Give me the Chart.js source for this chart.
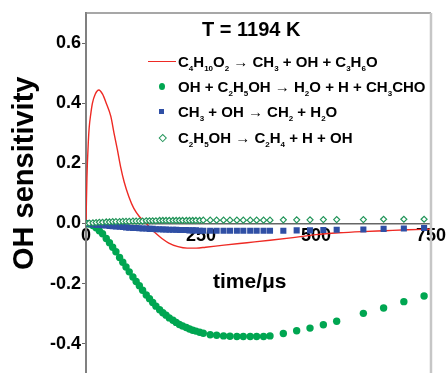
<!DOCTYPE html>
<html lang="en">
  <head>
    <meta charset="UTF-8" />
    <meta name="viewport" content="width=device-width, initial-scale=1.0" />
    <title>OH sensitivity - T = 1194 K</title>
    <script src="https://cdn.jsdelivr.net/npm/chart.js"></script>
    <style>
      html,
      body {
        margin: 0;
        padding: 0;
        background: #fff;
        overflow: hidden;
      }
      .grafico {
        position: relative;
        width: 448px;
        height: 379px;
      }
      .titulo {
        position: absolute;
        left: 202px;
        top: 19px;
        font: bold 20px "Liberation Sans", Arial, sans-serif;
        line-height: 20px;
        color: #000;
        white-space: nowrap;
      }
      .item {
        position: absolute;
        left: 148px;
        display: flex;
        align-items: center;
        height: 15px;
        line-height: 15px;
        font: bold 15px "Liberation Sans", Arial, sans-serif;
        color: #000;
        white-space: nowrap;
      }
      .item sub {
        font-size: 8px;
        line-height: 0;
        vertical-align: -4px;
      }
      .marca {
        width: 30px;
        height: 15px;
        position: relative;
        flex: none;
      }
      .marca span {
        position: absolute;
      }
    </style>
  </head>

  <body>
    <div class="grafico">
      <canvas id="myChart"></canvas>
      <div class="titulo">T = 1194 K</div>
      <div id="legenda"></div>
    </div>
  </body>
</html>

<script>
  // time grid of the marker series (μs)
  var timePoints = [
    0, 7, 15, 22, 29, 36, 44, 51, 58, 65, 73, 80, 87, 94, 102, 109, 116, 123,
    131, 138, 145, 152, 160, 167, 174, 181, 189, 196, 203, 210, 218, 225, 232,
    239, 247, 255, 270, 284, 299, 313, 328, 342, 357, 371, 386, 400, 429, 458,
    487, 516, 545, 603, 647, 691, 735,
  ];

  // OH + C2H5OH -> H2O + H + CH3CHO
  var ohEthanol = [
    0, -0.002, -0.007, -0.014, -0.024, -0.034, -0.05, -0.064, -0.079, -0.094,
    -0.113, -0.129, -0.145, -0.161, -0.178, -0.193, -0.207, -0.222, -0.238,
    -0.25, -0.263, -0.275, -0.287, -0.297, -0.305, -0.314, -0.322, -0.329,
    -0.336, -0.341, -0.346, -0.351, -0.355, -0.358, -0.362, -0.365, -0.37,
    -0.372, -0.374, -0.375, -0.376, -0.376, -0.376, -0.376, -0.376, -0.374,
    -0.366, -0.357, -0.348, -0.337, -0.325, -0.299, -0.281, -0.26, -0.241,
  ];

  // CH3 + OH -> CH2 + H2O
  var ch3Oh = [
    0, -0.002, -0.003, -0.004, -0.005, -0.006, -0.007, -0.008, -0.009, -0.01,
    -0.011, -0.012, -0.013, -0.014, -0.015, -0.015, -0.016, -0.017, -0.017,
    -0.018, -0.018, -0.019, -0.019, -0.02, -0.02, -0.021, -0.021, -0.021,
    -0.022, -0.022, -0.022, -0.023, -0.023, -0.023, -0.024, -0.024, -0.024,
    -0.024, -0.024, -0.024, -0.024, -0.024, -0.024, -0.024, -0.024, -0.024,
    -0.024, -0.023, -0.023, -0.022, -0.021, -0.02, -0.018, -0.017, -0.015,
  ];

  // C2H5OH -> C2H4 + H + OH
  var ethanolDecomp = [
    0, 0.001, 0.002, 0.003, 0.004, 0.004, 0.005, 0.005, 0.006, 0.006, 0.006,
    0.007, 0.007, 0.007, 0.008, 0.008, 0.008, 0.008, 0.009, 0.009, 0.009,
    0.009, 0.01, 0.01, 0.01, 0.01, 0.01, 0.01, 0.01, 0.01, 0.01, 0.01, 0.01,
    0.01, 0.01, 0.011, 0.011, 0.011, 0.011, 0.011, 0.011, 0.011, 0.011, 0.011,
    0.011, 0.011, 0.012, 0.012, 0.012, 0.013, 0.013, 0.013, 0.014, 0.014,
    0.014,
  ];

  // C4H10O2 -> CH3 + OH + C3H6O (solid line)
  var timeLine = [
    0, 1, 2, 3, 5, 7, 10, 14, 20, 28, 36, 44, 54, 61, 68, 75, 83, 93, 104, 115,
    126, 138, 151, 165, 180, 200, 220, 240, 260, 300, 350, 400, 450, 500, 550,
    600, 650, 700, 750,
  ];
  var diolLine = [
    0, 0.08, 0.15, 0.2, 0.27, 0.32, 0.36, 0.4, 0.43, 0.444, 0.43, 0.4, 0.356,
    0.3, 0.247, 0.19, 0.138, 0.09, 0.05, 0.025, 0.008, -0.012, -0.032, -0.05,
    -0.065, -0.077, -0.082, -0.082, -0.079, -0.072, -0.064, -0.056, -0.047,
    -0.037, -0.031, -0.027, -0.024, -0.021, -0.019,
  ];

  var xTicks = [0, 250, 500, 750];
  var yTicks = [-0.4, -0.2, 0, 0.2, 0.4, 0.6];

  var reactions = [
    "C<sub>4</sub>H<sub>10</sub>O<sub>2</sub> &rarr; CH<sub>3</sub> + OH + C<sub>3</sub>H<sub>6</sub>O",
    "OH + C<sub>2</sub>H<sub>5</sub>OH &rarr; H<sub>2</sub>O + H + CH<sub>3</sub>CHO",
    "CH<sub>3</sub> + OH &rarr; CH<sub>2</sub> + H<sub>2</sub>O",
    "C<sub>2</sub>H<sub>5</sub>OH &rarr; C<sub>2</sub>H<sub>4</sub> + H + OH",
  ];

  function pares(xs, ys) {
    return xs.map((x, i) => ({ x: x, y: ys[i] }));
  }

  var fonte = '"Liberation Sans", Arial, sans-serif';

  // top and right frame lines
  const moldura = {
    id: "moldura",
    afterDraw(chart) {
      const { ctx, chartArea: a } = chart;
      ctx.save();
      ctx.strokeStyle = "#8a8a8a";
      ctx.lineWidth = 1.5;
      ctx.beginPath();
      ctx.moveTo(a.left, a.top);
      ctx.lineTo(a.right, a.top);
      ctx.stroke();
      ctx.strokeStyle = "#c6c6c6";
      ctx.lineWidth = 2.5;
      ctx.beginPath();
      ctx.moveTo(a.right, a.top);
      ctx.lineTo(a.right, a.bottom);
      ctx.stroke();
      ctx.restore();
    },
  };

  const ctx = document.getElementById("myChart");
  const chart = new Chart(ctx, {
    type: "scatter",
    data: {
      datasets: [
        {
          label: "C4H10O2 -> CH3 + OH + C3H6O",
          data: pares(timeLine, diolLine),
          showLine: true,
          borderColor: "#ee2a24",
          borderWidth: 1.4,
          pointRadius: 0,
          cubicInterpolationMode: "monotone",
          order: 4,
          legendMark: "line",
        },
        {
          label: "OH + C2H5OH -> H2O + H + CH3CHO",
          data: pares(timePoints, ohEthanol),
          backgroundColor: "#00a651",
          borderWidth: 0,
          pointRadius: 3.7,
          pointStyle: "circle",
          order: 3,
          legendMark: "dot",
        },
        {
          label: "CH3 + OH -> CH2 + H2O",
          data: pares(timePoints, ch3Oh),
          backgroundColor: "#2f4fa5",
          borderWidth: 0,
          pointRadius: 4.3,
          pointStyle: "rect",
          order: 2,
          legendMark: "square",
        },
        {
          label: "C2H5OH -> C2H4 + H + OH",
          data: pares(timePoints, ethanolDecomp),
          backgroundColor: "#ffffff",
          borderColor: "#23955a",
          borderWidth: 1.2,
          pointRadius: 3,
          pointStyle: "rectRot",
          order: 1,
          legendMark: "diamond",
        },
      ],
    },
    options: {
      responsive: true,
      maintainAspectRatio: false,
      animation: false,
      devicePixelRatio: 1,
      layout: { padding: { top: 13, right: 17, bottom: 0, left: 0 } },
      plugins: {
        legend: { display: false },
        tooltip: { enabled: false },
      },
      scales: {
        x: {
          type: "linear",
          position: { y: 0 },
          min: 0,
          max: 750,
          afterBuildTicks: (s) => {
            s.ticks = xTicks.map((v) => ({ value: v }));
          },
          grid: { drawOnChartArea: false, drawTicks: false },
          border: { color: "#666", width: 1.5 },
          ticks: {
            padding: 2,
            maxRotation: 0,
            autoSkip: false,
            color: "#000",
            font: { family: fonte, size: 18, weight: "bold" },
          },
          title: {
            display: true,
            // trailing spaces pull the label a bit left of the axis centre
            text: "time/μs   ",
            color: "#000",
            font: { family: fonte, size: 21, weight: "bold" },
            padding: { top: 21, bottom: 0 },
          },
        },
        y: {
          type: "linear",
          min: -0.5,
          max: 0.7,
          afterBuildTicks: (s) => {
            s.ticks = yTicks.map((v) => ({ value: v }));
          },
          afterFit: (s) => {
            s.width = 86;
            s.paddingTop = 0;
            s.paddingBottom = 0;
          },
          grid: { drawOnChartArea: false, tickLength: 4, color: "#666" },
          border: { color: "#808080", width: 2 },
          ticks: {
            padding: 1,
            color: "#000",
            font: { family: fonte, size: 18, weight: "bold" },
            callback: (v) => Number(v).toFixed(1),
          },
          title: {
            display: true,
            // leading spaces lift the label above the axis centre
            text: "     OH sensitivity",
            color: "#000",
            font: { family: fonte, size: 29, weight: "bold" },
            padding: { top: 8, bottom: 0 },
          },
        },
      },
    },
    plugins: [moldura],
  });

  // legend inside the plot (html so the subscripts are real)
  var topos = [54, 79, 104, 130];
  var legenda = document.getElementById("legenda");
  chart.data.datasets.forEach((ds, i) => {
    var item = document.createElement("div");
    item.className = "item";
    item.style.top = topos[i] + "px";
    var marca = document.createElement("div");
    marca.className = "marca";
    var s = document.createElement("span");
    if (ds.legendMark === "line") {
      s.style.cssText =
        "left:0;top:7px;width:28px;height:0;border-top:1.5px solid " + ds.borderColor;
    } else if (ds.legendMark === "dot") {
      s.style.cssText =
        "left:11px;top:4px;width:6px;height:7px;border-radius:50%;background:" + ds.backgroundColor;
    } else if (ds.legendMark === "square") {
      s.style.cssText =
        "left:11px;top:5px;width:5px;height:5px;background:" + ds.backgroundColor;
    } else {
      s.style.cssText =
        "left:12px;top:5px;width:3.5px;height:3.5px;transform:rotate(45deg);border:1.2px solid " + ds.borderColor;
    }
    marca.appendChild(s);
    item.appendChild(marca);
    var texto = document.createElement("span");
    texto.innerHTML = reactions[i];
    item.appendChild(texto);
    legenda.appendChild(item);
  });
</script>
